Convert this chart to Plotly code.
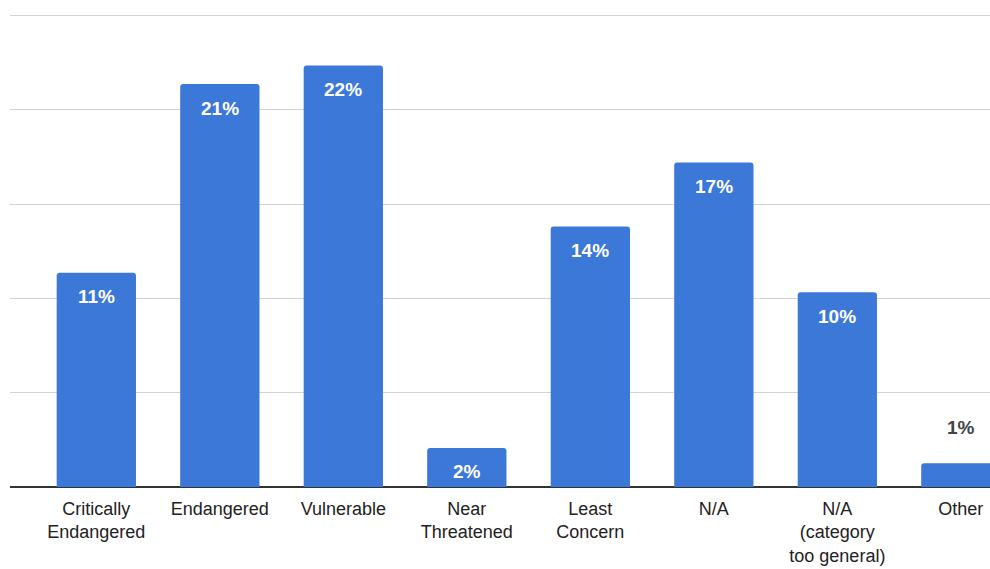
import plotly.graph_objects as go

categories = ["Critically<br>Endangered", "Endangered", "Vulnerable", "Near<br>Threatened",
              "Least<br>Concern", "N/A", "N/A<br>(category<br>too general)", "Other"]
values = [11.36, 21.37, 22.36, 2.07, 13.82, 17.21, 10.33, 1.26]
labels = [f"{round(v)}%" for v in values]
x_idx = list(range(len(values)))

BLUE = "#3c78d8"

fig = go.Figure()
fig.add_trace(go.Bar(
    x=x_idx, y=values, marker=dict(color=BLUE, line=dict(width=0)),
    hoverinfo="skip",
))

for i, (v, t) in enumerate(zip(values, labels)):
    inside = v > 1.8
    fig.add_annotation(
        x=i, y=v, text="<b>" + t + "</b>", showarrow=False,
        yshift=-24 if inside else 36,
        font=dict(family="Liberation Sans, Arial, sans-serif", size=19,
                  color="#ffffff" if inside else "#444444"),
        xanchor="center", yanchor="middle",
    )

fig.update_layout(
    width=990, height=569,
    margin=dict(l=10, r=0, t=10, b=82),
    paper_bgcolor="white", plot_bgcolor="white",
    bargap=0.358, barcornerradius=3,
    showlegend=False,
    xaxis=dict(
        range=[-0.699, 7.236], tickmode="array", tickvals=x_idx, ticktext=categories,
        showgrid=False, zeroline=False, showline=False, ticks="",
        ticklabelstandoff=9,
        tickfont=dict(family="Liberation Sans, Arial, sans-serif", size=18, color="#222222"),
        fixedrange=True,
    ),
    yaxis=dict(
        range=[0, 25.3], dtick=5, tick0=0, showticklabels=False,
        showgrid=True, gridcolor="#d3d3d3", gridwidth=1,
        zeroline=True, zerolinecolor="#333333", zerolinewidth=2,
        showline=False, ticks="", fixedrange=True,
    ),
)

fig.write_html("out.html")
